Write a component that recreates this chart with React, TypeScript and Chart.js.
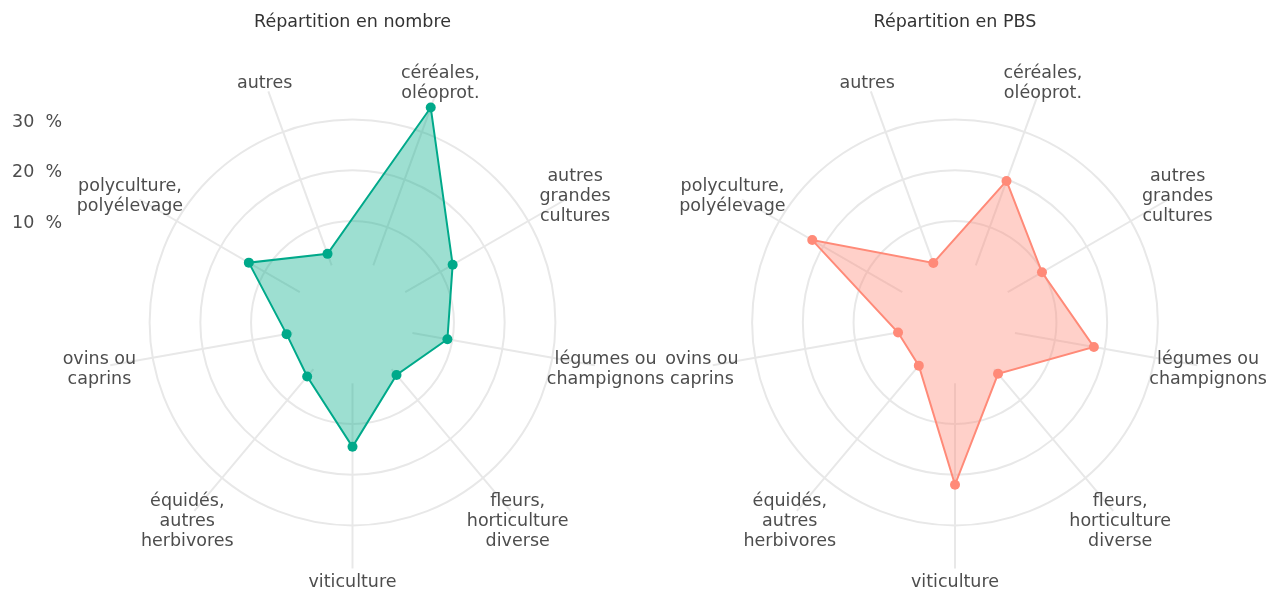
import React, { useEffect, useRef } from "react";
import { Chart, registerables } from "chart.js";

Chart.register(...registerables);

// ---------- data ----------
const CATEGORIES: string[][] = [
  ["céréales,", "oléoprot."],
  ["autres", "grandes", "cultures"],
  ["légumes ou", "champignons"],
  ["fleurs,", "horticulture", "diverse"],
  ["viticulture"],
  ["équidés,", "autres", "herbivores"],
  ["ovins ou", "caprins"],
  ["polyculture,", "polyélevage"],
  ["autres"],
];
const NOMBRE = [35.1, 12.8, 9.0, 3.5, 14.5, 3.9, 3.2, 13.6, 4.4];
const PBS = [19.7, 9.8, 17.8, 3.2, 22.0, 1.1, 1.4, 22.5, 2.5];
const TICK_VALUES = [10, 20, 30];
const TICK_LABELS = ["10  %", "20  %", "30  %"];
const TITLES = ["Répartition en nombre", "Répartition en PBS"];

// ---------- style / layout ----------
const FONT = '"DejaVu Sans", "Noto Sans", sans-serif';
const GRID = "#e8e8e8";
const LABEL_COLOR = "#4d4d4d";
const TITLE_COLOR = "#333333";
const SCALE_MIN = -10;
const SCALE_MAX = 38.5;
const SPOKE_START = 2;
const RADIUS = 246;
const CENTER_Y = 322.5;
const TEXT_DY = 2.5;

type PanelProps = {
  title: string;
  values: number[];
  line: string;
  fill: string;
  left: number;
  width: number;
  centerX: number;
  showTicks: boolean;
};

function RadarPanel(p: PanelProps) {
  const ref = useRef<HTMLCanvasElement | null>(null);

  useEffect(() => {
    if (!ref.current) return;
    const decor = {
      id: "decor",
      beforeDatasetsDraw(chart: any) {
        const s = chart.scales.r;
        const ctx = chart.ctx;
        ctx.save();
        ctx.strokeStyle = GRID;
        ctx.lineWidth = 2;
        for (let i = 0; i < CATEGORIES.length; i++) {
          const a = s.getPointPositionForValue(i, SPOKE_START);
          const b = s.getPointPosition(i, s.drawingArea);
          ctx.beginPath();
          ctx.moveTo(a.x, a.y);
          ctx.lineTo(b.x, b.y);
          ctx.stroke();
        }
        ctx.restore();
      },
      afterDraw(chart: any) {
        const s = chart.scales.r;
        const ctx = chart.ctx;
        ctx.save();
        // point labels
        ctx.font = `17.5px ${FONT}`;
        ctx.fillStyle = LABEL_COLOR;
        ctx.textAlign = "center";
        ctx.textBaseline = "middle";
        const lh = 20;
        CATEGORIES.forEach((lines, i) => {
          const pos = s.getPointPosition(i, s.drawingArea + 11);
          const y0 = pos.y - ((lines.length - 1) * lh) / 2 + TEXT_DY;
          lines.forEach((t, k) => ctx.fillText(t, pos.x, y0 + k * lh));
        });
        // title
        ctx.fillStyle = TITLE_COLOR;
        ctx.font = `17.5px ${FONT}`;
        ctx.fillText(p.title, s.xCenter, 20 + TEXT_DY);
        // tick labels
        if (p.showTicks) {
          ctx.fillStyle = LABEL_COLOR;
          ctx.textAlign = "left";
          TICK_VALUES.forEach((v, i) => {
            const y = s.yCenter - s.getDistanceFromCenterForValue(v);
            ctx.fillText(TICK_LABELS[i], 12, y + TEXT_DY);
          });
        }
        ctx.restore();
      },
    };

    const chart = new Chart(ref.current, {
      type: "radar",
      data: {
        labels: CATEGORIES.map((c) => c.join(" ")),
        datasets: [
          {
            data: p.values,
            borderColor: p.line,
            backgroundColor: p.fill,
            borderWidth: 2,
            fill: "start",
            pointRadius: 5,
            pointBackgroundColor: p.line,
            pointBorderWidth: 0,
            tension: 0,
          },
        ],
      },
      options: {
        animation: false,
        responsive: true,
        maintainAspectRatio: false,
        layout: { padding: 0 },
        plugins: {
          legend: { display: false },
          tooltip: { enabled: false },
          title: { display: false },
        },
        scales: {
          r: {
            min: SCALE_MIN,
            max: SCALE_MAX,
            startAngle: 20,
            ticks: { display: false, stepSize: 10 },
            pointLabels: { display: false },
            angleLines: { display: false },
            grid: {
              circular: true,
              lineWidth: 2,
              color: (c: any) =>
                c.tick && TICK_VALUES.includes(c.tick.value) ? GRID : "rgba(0,0,0,0)",
            },
            afterFit: (scale: any) => {
              scale.xCenter = p.centerX;
              scale.yCenter = CENTER_Y;
              scale.drawingArea = RADIUS;
            },
          } as any,
        },
      },
      plugins: [decor],
    });
    return () => chart.destroy();
  }, []);

  return (
    <div
      style={{
        position: "absolute",
        left: p.left,
        top: 0,
        width: p.width,
        height: 593,
      }}
    >
      <canvas ref={ref} />
    </div>
  );
}

export default function App() {
  return (
    <div
      style={{
        position: "fixed",
        left: 0,
        top: 0,
        width: 1281,
        height: 593,
        background: "#ffffff",
      }}
    >
      <RadarPanel
        title={TITLES[1]}
        values={PBS}
        line="#ff8a78"
        fill="rgba(255,137,120,0.4)"
        left={560}
        width={721}
        centerX={395}
        showTicks={false}
      />
      <RadarPanel
        title={TITLES[0]}
        values={NOMBRE}
        line="#00a98a"
        fill="rgba(10,175,140,0.4)"
        left={0}
        width={720}
        centerX={352.5}
        showTicks={true}
      />
    </div>
  );
}
